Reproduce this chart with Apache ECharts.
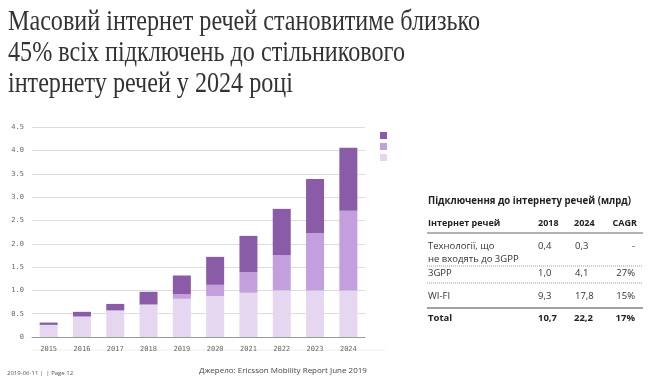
<!DOCTYPE html>
<html><head><meta charset="utf-8">
<script src="https://cdn.jsdelivr.net/npm/echarts@6/dist/echarts.min.js"></script>
<style>html,body{margin:0;padding:0;background:#fff}#c{width:648px;height:384px}</style>
</head><body><div id="c"></div>
<script>
var years = ['2015','2016','2017','2018','2019','2020','2021','2022','2023','2024'];
var lightVals = [0.26,0.44,0.57,0.69,0.82,0.88,0.95,1.00,1.00,1.00];
var midVals   = [0.00,0.00,0.00,0.01,0.10,0.24,0.44,0.76,1.23,1.71];
var darkVals  = [0.05,0.10,0.14,0.27,0.40,0.60,0.78,0.99,1.16,1.35];
var seriesNames = ['Масовий IoT (інше)','3GPP','Масовий IoT'];
var yTicks = ['0','0.5','1.0','1.5','2.0','2.5','3.0','3.5','4.0','4.5'];

var titleLines = ['Масовий інтернет речей становитиме близько','45% всіх підключень до стільникового','інтернету речей у 2024 році'];
var tableTitle = 'Підключення до інтернету речей (млрд)';
var tableHeader = ['Інтернет речей','2018','2024','CAGR'];
var rowLabels = [['Технології, що','не входять до 3GPP'],['3GPP'],['WI-FI']];
var col2018 = ['0,4','1,0','9,3'];
var col2024 = ['0,3','4,1','17,8'];
var colCagr = ['-','27%','15%'];
var totalRow = ['Total','10,7','22,2','17%'];
var footerLeft = '2019-06-11 |  | Page 12';
var footerSrc = 'Джерело: Ericsson Mobility Report June 2019';

var cDark='#8a5ca8', cMid='#c39fdd', cLight='#e6d7f0';
var tf = '"Open Sans", sans-serif';
var titleFont = '30px "Liberation Serif", serif';
var cv = document.createElement('canvas').getContext('2d');
cv.font = titleFont;
var sx = 472 / cv.measureText(titleLines[0]).width;
var ttFont = 'bold 10px ' + tf;
cv.font = ttFont;
var tsx = Math.min(1.2, 203 / cv.measureText(tableTitle).width);
var g = [];
var titleY = [22, 53, 84];
titleLines.forEach(function(t,i){
  g.push({type:'text',x:8,y:titleY[i],scaleX:sx,originX:0,style:{text:t,font:titleFont,fill:'#333',verticalAlign:'middle'}});
});
g.push({type:'text',x:428,y:201,scaleX:tsx,originX:0,style:{text:tableTitle,font:ttFont,fill:'#222',verticalAlign:'middle'}});
var fs = '9.5px ';
function T(x,y,t,bold,align,size){g.push({type:'text',x:x,y:y,style:{text:t,font:(bold?'bold ':'')+(size||fs)+tf,fill:bold?'#222':'#333',verticalAlign:'middle',align:align||'left'}});}
T(428,223,tableHeader[0],true,'left','9px ');
T(538,223,tableHeader[1],true,'left','9px ');
T(574,223,tableHeader[2],true,'left','9px ');
T(637,223,tableHeader[3],true,'right','9px ');
g.push({type:'line',shape:{x1:427,y1:233,x2:643,y2:233},style:{stroke:'#666',lineWidth:1}});
var rowY=[246,273,296];
rowLabels.forEach(function(lines,i){
  lines.forEach(function(t,j){T(428,rowY[i]+j*13,t,false);});
  T(538,rowY[i],col2018[i],false);
  T(575,rowY[i],col2024[i],false);
  T(635,rowY[i],colCagr[i],false,'right');
});
g.push({type:'line',shape:{x1:427,y1:266,x2:643,y2:266},style:{stroke:'#999',lineWidth:1,lineDash:[1,1]}});
g.push({type:'line',shape:{x1:427,y1:283,x2:643,y2:283},style:{stroke:'#999',lineWidth:1,lineDash:[1,1]}});
g.push({type:'line',shape:{x1:427,y1:308,x2:643,y2:308},style:{stroke:'#444',lineWidth:1}});
T(428,318,totalRow[0],true);
T(538,318,totalRow[1],true);
T(574,318,totalRow[2],true);
T(635,318,totalRow[3],true,'right');
g.push({type:'line',shape:{x1:32,y1:350,x2:385,y2:350},style:{stroke:'#eee',lineWidth:1}});
g.push({type:'text',x:7,y:373,style:{text:footerLeft,font:'6px '+tf,fill:'#555',verticalAlign:'middle'}});
g.push({type:'text',x:199,y:371,style:{text:footerSrc,font:'8px '+tf,fill:'#444',verticalAlign:'middle'}});

var chart = echarts.init(document.getElementById('c'));
chart.setOption({
  animation:false,
  grid:{left:32,right:283,top:127.3,bottom:47},
  legend:{orient:'vertical',left:375,top:127,itemWidth:7,itemHeight:7,itemGap:4,icon:'rect',
    formatter:function(){return '';},data:[seriesNames[2],seriesNames[1],seriesNames[0]],textStyle:{fontSize:1}},
  xAxis:{type:'category',data:years,axisTick:{show:false},axisLine:{lineStyle:{color:'#999'}},
    axisLabel:{color:'#666',fontSize:7,fontFamily:'DejaVu Sans Mono',margin:9}},
  yAxis:{type:'value',min:0,max:4.5,interval:0.5,axisLine:{show:false},axisTick:{show:false},
    splitLine:{lineStyle:{color:'#ddd'}},
    axisLabel:{color:'#666',fontSize:7,fontFamily:'DejaVu Sans Mono',margin:8,
      formatter:function(v){return yTicks[Math.round(v/0.5)];}}},
  series:[
    {name:seriesNames[0],type:'bar',stack:'s',data:lightVals,barWidth:18,itemStyle:{color:cLight}},
    {name:seriesNames[1],type:'bar',stack:'s',data:midVals,barWidth:18,itemStyle:{color:cMid}},
    {name:seriesNames[2],type:'bar',stack:'s',data:darkVals,barWidth:18,itemStyle:{color:cDark}}
  ],
  graphic:g
});
</script></body></html>
